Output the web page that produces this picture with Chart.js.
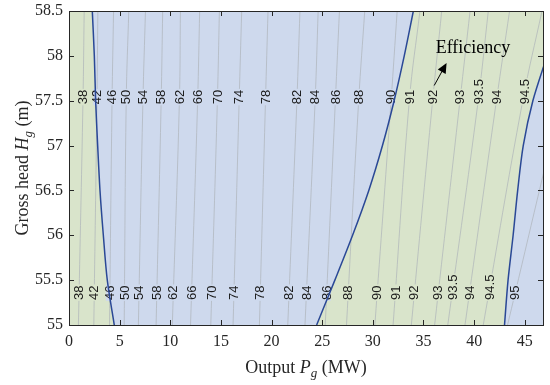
<!DOCTYPE html>
<html>
<head>
<meta charset="utf-8">
<script src="https://cdn.jsdelivr.net/npm/chart.js@4.4.0/dist/chart.umd.min.js"></script>
<style>
  body { margin: 0; background: #fff; }
</style>
</head>
<body>
<canvas id="my-chart" width="550" height="385"></canvas>
<script>
'use strict';

// ********** Chart Data *******************

let xMin = 0;
let xMax = 46.8;
let yMin = 55;
let yMax = 58.5;

let xTickValues = [0, 5, 10, 15, 20, 25, 30, 35, 40, 45];
let yTickValues = [55, 55.5, 56, 56.5, 57, 57.5, 58, 58.5];

// boundaries of the coloured zones, x (MW) read at each head (m)
let boundaryHeads = [55, 55.5, 56, 56.5, 57, 57.5, 58, 58.5];
let leftEdge = [4.47, 3.78, 3.39, 3.06, 2.83, 2.63, 2.5, 2.3];
let middleEdge = [24.45, 26.25, 28.0, 29.6, 30.95, 32.1, 33.1, 34.0];
let rightEdge = [43.0, 43.35, 43.85, 44.3, 44.85, 45.8, 47.2, 48.6];

// efficiency contour lines, x (MW) read at three heads
let contourLevels = ['38', '42', '46', '50', '54', '58', '62', '66', '70', '74', '78', '82', '84', '86', '88', '90', '91', '92', '93', '93.5', '94', '94.5', '95'];
let contourHeads = [55, 57.5, 58.5];
let contourAt55 = [0.93, 2.45, 4.0, 5.45, 6.85, 8.6, 10.2, 12.0, 14.0, 16.2, 18.8, 21.6, 23.3, 25.3, 27.4, 30.2, 32.0, 33.8, 36.1, 37.4, 39.1, 40.9, 43.3];
let contourAt575 = [1.38, 2.76, 4.25, 5.65, 7.3, 9.1, 10.9, 12.7, 14.65, 16.8, 19.4, 22.5, 24.3, 26.3, 28.6, 31.8, 33.6, 35.9, 38.6, 40.4, 42.2, 44.8, 48.6];
let contourAt585 = [1.5, 2.85, 4.4, 5.9, 7.55, 9.25, 11.0, 12.9, 14.85, 17.05, 19.65, 22.8, 24.6, 26.7, 29.2, 32.4, 34.65, 36.8, 39.6, 41.4, 43.5, 46.7, 51.0];

// where the two rows of contour labels start (head, m)
let labelStartTop = 57.46;
let labelStartBottom = 55.28;

// annotation
let noteText = 'Efficiency';
let notePoint = {x: 36.2, y: 58.03};
let arrowTail = {x: 36.06, y: 57.67};
let arrowTip = {x: 37.28, y: 57.92};

// ************ Styles *******************

let blueFill = 'rgb(206, 217, 237)';
let greenFill = 'rgb(217, 228, 203)';
let edgeColor = 'rgb(42, 72, 150)';
let contourColor = 'rgb(174, 179, 185)';
let axisColor = '#262626';
let serif = '"Liberation Serif", "Times New Roman", serif';
let sans = '"Liberation Sans", Arial, sans-serif';

// ************* Helper Functions ***************

function curvePoints(xs, heads) {
  let pts = [];
  for (let i = 0; i < xs.length; i++) {
    pts.push({x: xs[i], y: heads[i]});
  }
  return pts;
}

let contourColumns = [contourAt55, contourAt575, contourAt585];

function contourPoints(i) {
  let pts = [];
  for (let j = 0; j < contourHeads.length; j++) {
    pts.push({x: contourColumns[j][i], y: contourHeads[j]});
  }
  return pts;
}

function lerpAt(heads, xs, head) {
  for (let j = 0; j < heads.length - 1; j++) {
    if (head <= heads[j + 1] || j === heads.length - 2) {
      let t = (head - heads[j]) / (heads[j + 1] - heads[j]);
      return xs[j] + t * (xs[j + 1] - xs[j]);
    }
  }
}

function contourX(i, head) {
  return lerpAt(contourHeads, contourColumns.map(c => c[i]), head);
}

function zoneColor(x, head) {
  if (x < lerpAt(boundaryHeads, leftEdge, head)) return greenFill;
  if (x < lerpAt(boundaryHeads, middleEdge, head)) return blueFill;
  if (x < lerpAt(boundaryHeads, rightEdge, head)) return greenFill;
  return blueFill;
}

function drawRich(ctx, parts, x, y) {
  let total = 0;
  for (let p of parts) {
    ctx.font = p.font;
    p.w = ctx.measureText(p.text).width;
    total += p.w;
  }
  let cx = x - total / 2;
  for (let p of parts) {
    ctx.font = p.font;
    ctx.fillText(p.text, cx, y + (p.dy || 0));
    cx += p.w;
  }
}

// ************ Datasets ********************

let datasets = [];

let leftZone = curvePoints(leftEdge, boundaryHeads);
leftZone.push({x: xMin, y: yMax});
leftZone.push({x: xMin, y: yMin});
datasets.push({
  data: leftZone, showLine: true, fill: 'shape', backgroundColor: greenFill,
  borderColor: 'rgba(0,0,0,0)', pointRadius: 0, tension: 0, order: 3
});

let middleZone = curvePoints(middleEdge, boundaryHeads).concat(curvePoints(rightEdge, boundaryHeads).reverse());
datasets.push({
  data: middleZone, showLine: true, fill: 'shape', backgroundColor: greenFill,
  borderColor: 'rgba(0,0,0,0)', pointRadius: 0, tension: 0, order: 3
});

let lastContour = datasets.length;
for (let i = 0; i < contourLevels.length; i++) {
  datasets.push({
    data: contourPoints(i), showLine: true, fill: false, borderColor: contourColor,
    borderWidth: 0.7, pointRadius: 0, tension: 0.4, order: 2
  });
}

let edges = [leftEdge, middleEdge, rightEdge];
for (let e of edges) {
  datasets.push({
    data: curvePoints(e, boundaryHeads), showLine: true, fill: false, borderColor: edgeColor,
    borderWidth: 1.5, pointRadius: 0, tension: 0.3, order: 1
  });
}

// ************ Drawing plugin ********************

function drawContourLabels(chart) {
  let ctx = chart.ctx;
  let xs = chart.scales.x;
  let ys = chart.scales.y;
  ctx.save();
  ctx.font = '13px ' + sans;
  ctx.textAlign = 'center';
  ctx.textBaseline = 'middle';
  let rows = [labelStartTop, labelStartBottom];
  for (let start of rows) {
    for (let i = 0; i < contourLevels.length; i++) {
      let txt = contourLevels[i];
      let w = ctx.measureText(txt).width;
      let pyc = ys.getPixelForValue(start) - w / 2;
      let hc = ys.getValueForPixel(pyc);
      let xv = contourX(i, hc);
      if (xv < xMin || xv > xMax) continue;
      ctx.save();
      ctx.translate(xs.getPixelForValue(xv), pyc);
      ctx.rotate(-Math.PI / 2);
      ctx.fillStyle = zoneColor(xv, hc);
      ctx.fillRect(-w / 2 - 1, -4, w + 2, 8);
      ctx.fillStyle = '#1a1a1a';
      ctx.fillText(txt, 0, 0.5);
      ctx.restore();
    }
  }
  ctx.restore();
}

let sketchPlugin = {
  id: 'sketch',
  beforeDraw(chart) {
    let ctx = chart.ctx;
    let a = chart.chartArea;
    ctx.save();
    ctx.fillStyle = '#ffffff';
    ctx.fillRect(0, 0, chart.width, chart.height);
    ctx.fillStyle = blueFill;
    ctx.fillRect(a.left, a.top, a.right - a.left, a.bottom - a.top);
    ctx.restore();
  },
  afterDatasetDraw(chart, args) {
    if (args.index === lastContour) drawContourLabels(chart);
  },
  afterDatasetsDraw(chart) {
    let ctx = chart.ctx;
    let xs = chart.scales.x;
    let ys = chart.scales.y;
    ctx.save();
    ctx.fillStyle = '#000';
    ctx.strokeStyle = '#000';
    ctx.font = '18px ' + serif;
    ctx.textAlign = 'left';
    ctx.textBaseline = 'alphabetic';
    ctx.fillText(noteText, xs.getPixelForValue(notePoint.x), ys.getPixelForValue(notePoint.y));
    let x0 = xs.getPixelForValue(arrowTail.x), y0 = ys.getPixelForValue(arrowTail.y);
    let x1 = xs.getPixelForValue(arrowTip.x), y1 = ys.getPixelForValue(arrowTip.y);
    let ang = Math.atan2(y1 - y0, x1 - x0);
    ctx.lineWidth = 1;
    ctx.beginPath();
    ctx.moveTo(x0, y0);
    ctx.lineTo(x1 - 8 * Math.cos(ang), y1 - 8 * Math.sin(ang));
    ctx.stroke();
    ctx.beginPath();
    ctx.moveTo(x1, y1);
    ctx.lineTo(x1 - 10 * Math.cos(ang) + 4.5 * Math.sin(ang), y1 - 10 * Math.sin(ang) - 4.5 * Math.cos(ang));
    ctx.lineTo(x1 - 10 * Math.cos(ang) - 4.5 * Math.sin(ang), y1 - 10 * Math.sin(ang) + 4.5 * Math.cos(ang));
    ctx.closePath();
    ctx.fill();
    ctx.restore();
  },
  afterDraw(chart) {
    let ctx = chart.ctx;
    let a = chart.chartArea;
    let xs = chart.scales.x;
    let ys = chart.scales.y;
    ctx.save();
    ctx.strokeStyle = axisColor;
    ctx.lineWidth = 1;
    ctx.beginPath();
    for (let v of xTickValues) {
      let px = Math.round(xs.getPixelForValue(v)) + 0.5;
      ctx.moveTo(px, a.bottom); ctx.lineTo(px, a.bottom - 5);
      ctx.moveTo(px, a.top); ctx.lineTo(px, a.top + 5);
    }
    for (let v of yTickValues) {
      let py = Math.round(ys.getPixelForValue(v)) + 0.5;
      ctx.moveTo(a.left, py); ctx.lineTo(a.left + 5, py);
      ctx.moveTo(a.right, py); ctx.lineTo(a.right - 5, py);
    }
    ctx.stroke();
    ctx.strokeRect(Math.round(a.left) + 0.5, Math.round(a.top) + 0.5, Math.round(a.right - a.left), Math.round(a.bottom - a.top));

    // axis titles
    ctx.fillStyle = axisColor;
    ctx.textAlign = 'left';
    ctx.textBaseline = 'alphabetic';
    drawRich(ctx, [
      {text: 'Output ', font: '18px ' + serif},
      {text: 'P', font: 'italic 18px ' + serif},
      {text: 'g', font: 'italic 13px ' + serif, dy: 4},
      {text: ' (MW)', font: '18px ' + serif}
    ], (a.left + a.right) / 2, 373);

    ctx.translate(28, (a.top + a.bottom) / 2);
    ctx.rotate(-Math.PI / 2);
    drawRich(ctx, [
      {text: 'Gross head ', font: '18px ' + serif},
      {text: 'H', font: 'italic 18px ' + serif},
      {text: 'g', font: 'italic 13px ' + serif, dy: 4},
      {text: ' (m)', font: '18px ' + serif}
    ], 0, 0);
    ctx.restore();
  }
};

// ************** Chart ********************

let canvasElem = document.getElementById('my-chart');

new Chart(canvasElem, {
  type: 'scatter',
  data: { datasets: datasets },
  options: {
    responsive: false,
    animation: false,
    layout: { padding: { top: 11, right: 7, left: 0, bottom: 0 } },
    plugins: {
      legend: { display: false },
      tooltip: { enabled: false }
    },
    scales: {
      x: {
        type: 'linear', min: xMin, max: xMax,
        grid: { display: false, drawTicks: false },
        border: { display: false },
        afterBuildTicks: function (scale) {
          scale.ticks = xTickValues.map(v => ({value: v}));
        },
        afterFit: function (scale) {
          scale.height = 60;
          scale.paddingLeft = 0;
          scale.paddingRight = 0;
        },
        ticks: {
          padding: 7, color: axisColor,
          font: { family: serif, size: 16 },
          callback: v => String(v)
        }
      },
      y: {
        type: 'linear', min: yMin, max: yMax,
        grid: { display: false, drawTicks: false },
        border: { display: false },
        afterBuildTicks: function (scale) {
          scale.ticks = yTickValues.map(v => ({value: v}));
        },
        afterFit: function (scale) {
          scale.width = 69;
          scale.paddingTop = 0;
          scale.paddingBottom = 0;
        },
        ticks: {
          padding: 6, color: axisColor,
          font: { family: serif, size: 16 },
          callback: v => String(v)
        }
      }
    }
  },
  plugins: [sketchPlugin]
});
</script>
</body>
</html>
